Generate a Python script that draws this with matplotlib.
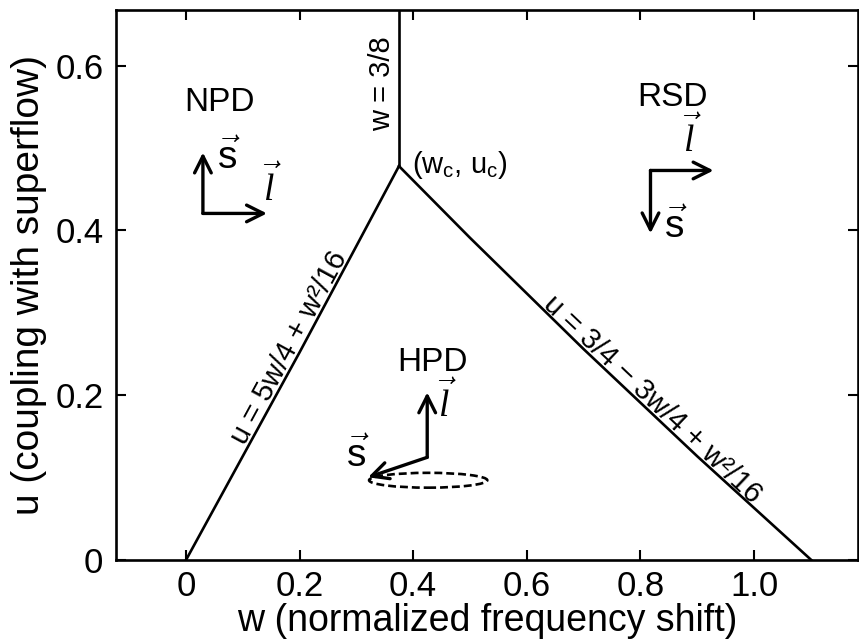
import matplotlib
matplotlib.use('Agg')
import matplotlib.pyplot as plt
from matplotlib.patches import Ellipse

plt.rcParams['font.family'] = ['Liberation Sans', 'DejaVu Sans']
plt.rcParams['mathtext.fontset'] = 'custom'
plt.rcParams['mathtext.rm'] = 'Liberation Sans'
plt.rcParams['mathtext.it'] = 'Liberation Serif:italic'

# phase boundaries
w_npd_hpd = [0.0, 0.1, 0.2, 0.3, 0.375]
u_npd_hpd = [0.0, 0.126, 0.252, 0.381, 0.478]
w_npd_rsd = [0.375, 0.375]
u_npd_rsd = [0.478, 0.667]
w_hpd_rsd = [0.375, 0.5, 0.7, 0.9, 1.101]
u_hpd_rsd = [0.478, 0.391, 0.256, 0.126, 0.0]

x_ticks = [0, 0.2, 0.4, 0.6, 0.8, 1.0]
x_ticklabels = ['0', '0.2', '0.4', '0.6', '0.8', '1.0']
y_ticks = [0, 0.2, 0.4, 0.6]
y_ticklabels = ['0', '0.2', '0.4', '0.6']

fig = plt.figure(figsize=(8.59, 6.41), dpi=100)
ax = fig.add_axes([0.135, 0.126, 0.864, 0.858])

lw = 1.9
ax.plot(w_npd_hpd, u_npd_hpd, color='black', lw=lw)
ax.plot(w_npd_rsd, u_npd_rsd, color='black', lw=lw)
ax.plot(w_hpd_rsd, u_hpd_rsd, color='black', lw=lw)

ax.set_xlim(-0.123, 1.183)
ax.set_ylim(0, 0.667)
ax.set_xticks(x_ticks)
ax.set_xticklabels(x_ticklabels)
ax.set_yticks(y_ticks)
ax.set_yticklabels(y_ticklabels)
ax.tick_params(direction='in', length=7, width=1.5, top=True, right=True,
               labelsize=25)
ax.tick_params(axis='x', pad=7)
ax.tick_params(axis='y', pad=9)
for s in ax.spines.values():
    s.set_linewidth(1.9)

ax.set_xlabel('w (normalized frequency shift)', fontsize=27, labelpad=0)
ax.set_ylabel('u (coupling with superflow)', fontsize=28, labelpad=6)

# boundary labels
ax.text(0.375 - 0.03, 0.578, 'w = 3/8', rotation=90, fontsize=21,
        ha='center', va='center')
ax.text(0.481, 0.479, r'(w$_\mathregular{c}$, u$_\mathregular{c}$)',
        fontsize=21, ha='center', va='center')
ax.text(0.194, 0.253, 'u = 5w/4 + w²/16', rotation=61.5, fontsize=21,
        ha='center', va='baseline', rotation_mode='anchor')
ax.text(0.812, 0.188, 'u = 3/4 − 3w/4 + w²/16', rotation=-43.4, fontsize=21,
        ha='center', va='baseline', rotation_mode='anchor')

# region names
ax.text(0.06, 0.555, 'NPD', fontsize=24, ha='center', va='center')
ax.text(0.856, 0.561, 'RSD', fontsize=24, ha='center', va='center')
ax.text(0.4335, 0.24, 'HPD', fontsize=24, ha='center', va='center')

arr = dict(arrowstyle='->', lw=2.4, color='black', mutation_scale=30,
           shrinkA=0, shrinkB=0)

def vec(x0, y0, x1, y1):
    ax.annotate('', xy=(x1, y1), xytext=(x0, y0), arrowprops=arr)

# NPD
vec(0.030, 0.4206, 0.030, 0.4945)
vec(0.030, 0.4206, 0.1427, 0.4206)
ax.text(0.075, 0.488, r'$\vec{\mathrm{s}}$', fontsize=28, ha='center', va='center')
ax.text(0.150, 0.452, r'$\vec{l}$', fontsize=27, ha='center', va='center')

# RSD
vec(0.8176, 0.4727, 0.9286, 0.4727)
vec(0.8176, 0.4727, 0.8176, 0.3964)
ax.text(0.889, 0.512, r'$\vec{l}$', fontsize=27, ha='center', va='center')
ax.text(0.862, 0.404, r'$\vec{\mathrm{s}}$', fontsize=28, ha='center', va='center')

# HPD
ax.add_patch(Ellipse((0.4264, 0.097), 0.208, 0.018, fill=False, lw=1.9,
                     ls=(0, (3, 1.5)), color='black'))
vec(0.4247, 0.1248, 0.4247, 0.2036)
vec(0.4247, 0.1248, 0.3207, 0.1006)
ax.text(0.458, 0.190, r'$\vec{l}$', fontsize=27, ha='center', va='center')
ax.text(0.303, 0.126, r'$\vec{\mathrm{s}}$', fontsize=28, ha='center', va='center')

fig.savefig('out.png', dpi=100)
